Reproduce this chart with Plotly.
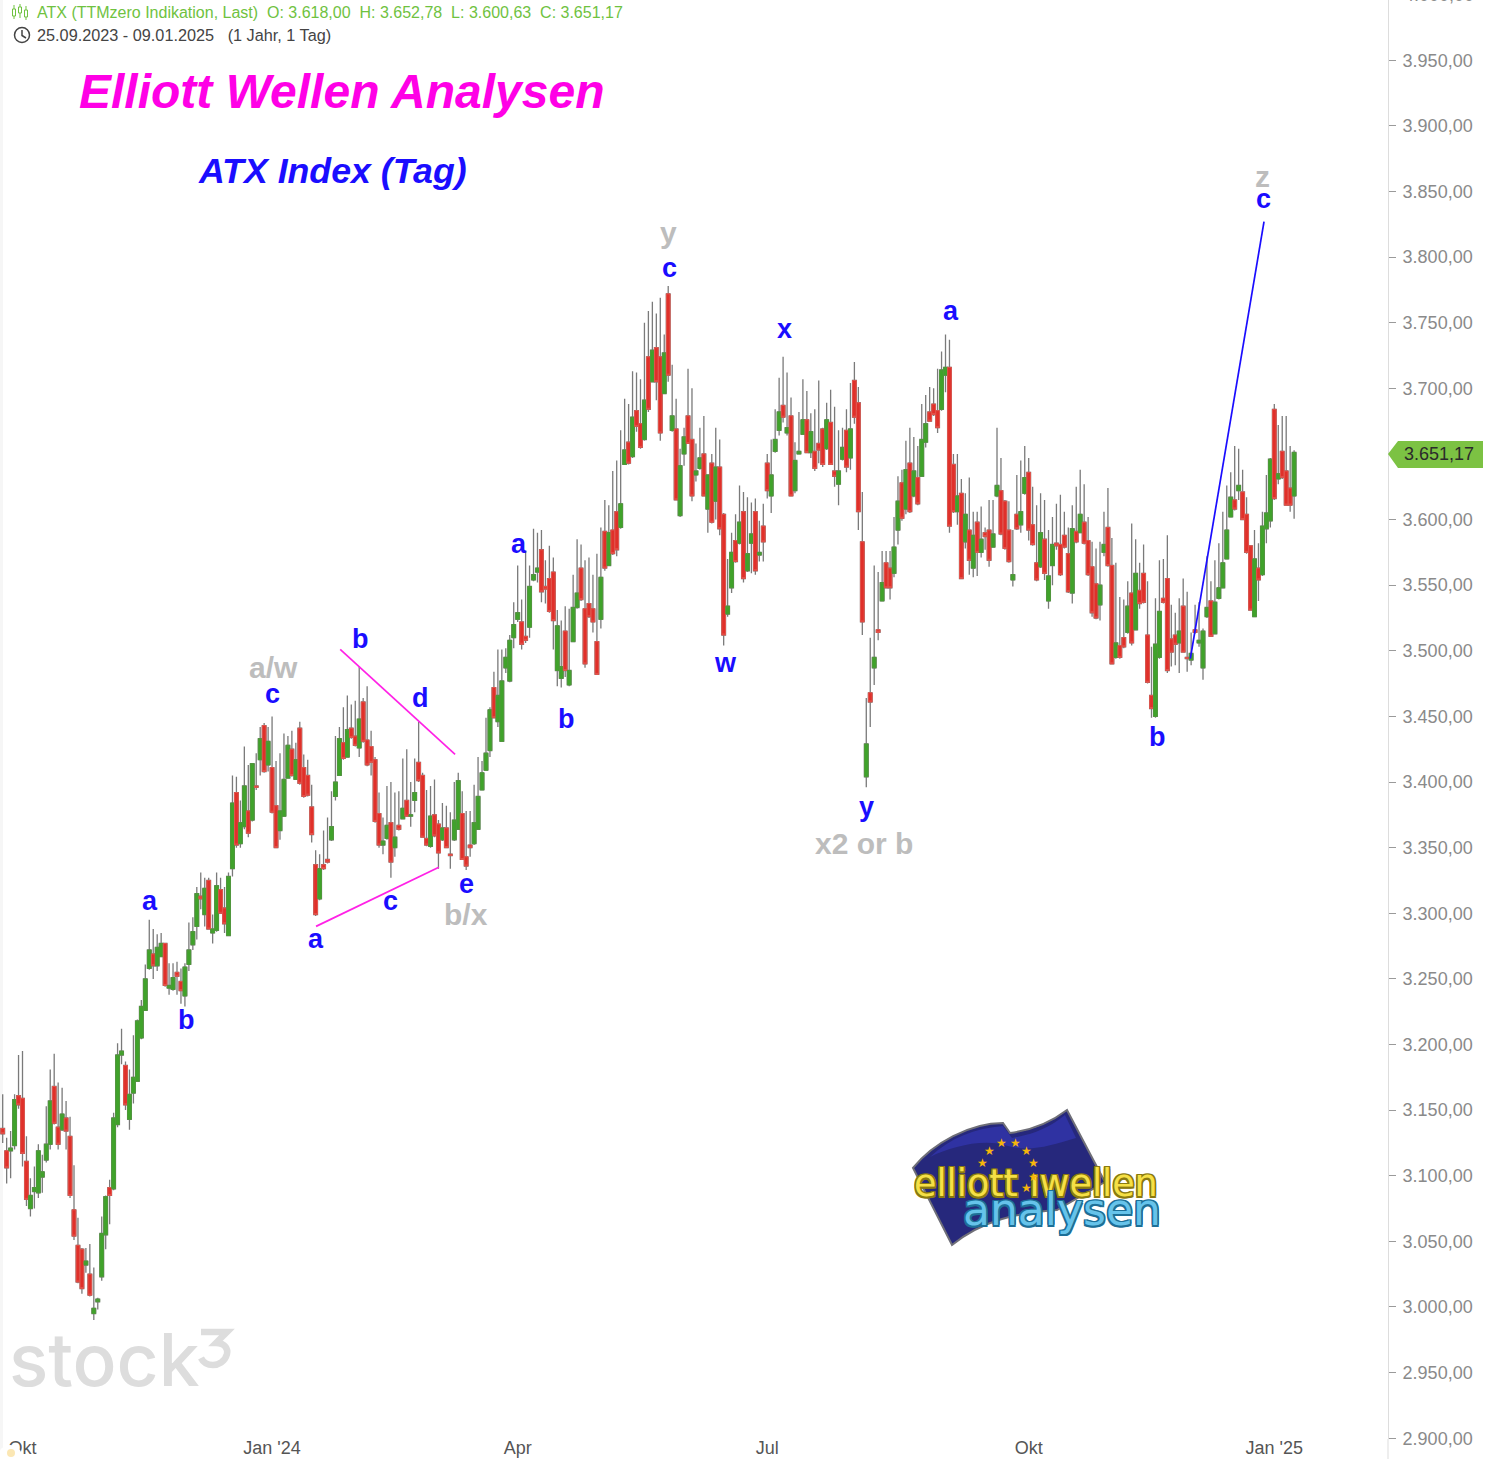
"""ATX Index daily candles with hand drawn Elliott wave count."""

import plotly.graph_objects as go

opens = [
    3136, 3119, 3119, 3123, 3161, 3159, 3111, 3075, 3088, 3087,
    3099, 3112, 3124, 3168, 3137, 3135, 3144, 3130, 3074, 3047,
    3044, 3032, 3025, 2995, 3004, 3023, 3055, 3091, 3090, 3139,
    3192, 3184, 3143, 3163, 3172, 3205, 3226, 3258, 3269, 3260,
    3267, 3277, 3243, 3242, 3255, 3248, 3237, 3261, 3276, 3290,
    3313, 3299, 3325, 3285, 3287, 3318, 3304, 3283, 3334, 3392,
    3353, 3366, 3378, 3371, 3397, 3417, 3443, 3413, 3411, 3382,
    3363, 3374, 3403, 3425, 3402, 3441, 3411, 3405, 3381, 3337,
    3311, 3337, 3341, 3356, 3389, 3405, 3430, 3419, 3441, 3435,
    3426, 3461, 3432, 3427, 3417, 3376, 3352, 3357, 3369, 3350,
    3367, 3372, 3386, 3374, 3386, 3415, 3405, 3357, 3351, 3375,
    3368, 3356, 3365, 3345, 3356, 3364, 3376, 3343, 3352, 3353,
    3364, 3394, 3409, 3424, 3472, 3446, 3431, 3487, 3477, 3510,
    3524, 3522, 3511, 3518, 3554, 3560, 3577, 3549, 3555, 3560,
    3485, 3479, 3515, 3474, 3507, 3533, 3563, 3532, 3536, 3532,
    3507, 3524, 3591, 3565, 3592, 3606, 3594, 3642, 3659, 3648,
    3683, 3673, 3661, 3724, 3705, 3731, 3724, 3696, 3772, 3668,
    3669, 3603, 3650, 3679, 3661, 3634, 3639, 3650, 3608, 3643,
    3614, 3640, 3604, 3528, 3548, 3584, 3582, 3606, 3561, 3582,
    3606, 3573, 3595, 3643, 3618, 3652, 3668, 3687, 3666, 3679,
    3622, 3650, 3665, 3676, 3651, 3652, 3658, 3669, 3654, 3674,
    3637, 3627, 3646, 3668, 3647, 3706, 3689, 3583, 3404, 3468,
    3487, 3516, 3538, 3567, 3563, 3559, 3592, 3628, 3608, 3643,
    3618, 3632, 3633, 3659, 3682, 3688, 3683, 3684, 3710, 3716,
    3642, 3606, 3620, 3583, 3592, 3563, 3598, 3575, 3590, 3592,
    3579, 3618, 3622, 3614, 3592, 3554, 3604, 3596, 3620, 3636,
    3596, 3567, 3564, 3585, 3538, 3565, 3582, 3581, 3588, 3574,
    3544, 3591, 3590, 3598, 3584, 3564, 3551, 3535, 3575, 3594,
    3565, 3495, 3504, 3510, 3514, 3544, 3516, 3546, 3559, 3512,
    3466, 3450, 3495, 3540, 3555, 3509, 3512, 3506, 3534, 3495,
    3493, 3516, 3506, 3487, 3526, 3538, 3513, 3540, 3548, 3570,
    3602, 3615, 3622, 3621, 3604, 3580, 3526, 3563, 3558, 3593,
    3599, 3684, 3631, 3652, 3637, 3624, 3618,
]
highs = [
    3162, 3129, 3134, 3162, 3192, 3195, 3130, 3098, 3107, 3124,
    3116, 3153, 3181, 3193, 3171, 3167, 3157, 3145, 3108, 3068,
    3045, 3045, 3048, 3030, 3007, 3069, 3085, 3097, 3148, 3201,
    3212, 3187, 3181, 3207, 3219, 3234, 3261, 3295, 3288, 3284,
    3285, 3277, 3262, 3262, 3263, 3258, 3262, 3293, 3297, 3320,
    3331, 3327, 3327, 3299, 3331, 3327, 3320, 3331, 3405, 3404,
    3386, 3427, 3413, 3414, 3422, 3442, 3445, 3442, 3450, 3416,
    3422, 3437, 3435, 3439, 3430, 3446, 3421, 3417, 3398, 3348,
    3345, 3363, 3373, 3393, 3435, 3442, 3457, 3466, 3459, 3462,
    3488, 3464, 3473, 3439, 3419, 3392, 3373, 3397, 3400, 3392,
    3393, 3418, 3425, 3400, 3418, 3446, 3407, 3394, 3397, 3402,
    3371, 3384, 3382, 3377, 3400, 3407, 3393, 3378, 3378, 3398,
    3419, 3416, 3449, 3457, 3484, 3501, 3501, 3502, 3512, 3537,
    3565, 3539, 3576, 3565, 3593, 3590, 3592, 3569, 3580, 3571,
    3531, 3523, 3534, 3532, 3558, 3585, 3581, 3569, 3571, 3558,
    3574, 3594, 3615, 3611, 3637, 3645, 3668, 3692, 3688, 3713,
    3712, 3707, 3750, 3759, 3766, 3757, 3769, 3741, 3778, 3718,
    3692, 3654, 3670, 3715, 3700, 3658, 3670, 3679, 3634, 3650,
    3670, 3661, 3605, 3570, 3590, 3604, 3626, 3621, 3617, 3613,
    3616, 3599, 3612, 3650, 3661, 3684, 3708, 3724, 3712, 3693,
    3659, 3682, 3707, 3698, 3681, 3684, 3706, 3670, 3689, 3699,
    3686, 3668, 3670, 3684, 3704, 3720, 3701, 3621, 3464, 3510,
    3565, 3560, 3576, 3576, 3576, 3602, 3633, 3638, 3660, 3670,
    3663, 3656, 3688, 3695, 3701, 3700, 3715, 3728, 3741, 3737,
    3650, 3650, 3631, 3620, 3632, 3606, 3606, 3610, 3594, 3615,
    3615, 3670, 3647, 3615, 3614, 3592, 3634, 3645, 3656, 3647,
    3625, 3611, 3620, 3615, 3592, 3602, 3612, 3619, 3606, 3594,
    3611, 3625, 3638, 3627, 3602, 3583, 3578, 3583, 3606, 3624,
    3586, 3567, 3541, 3539, 3553, 3597, 3585, 3567, 3581, 3553,
    3503, 3540, 3569, 3570, 3588, 3535, 3529, 3540, 3555, 3545,
    3514, 3535, 3537, 3517, 3572, 3553, 3569, 3582, 3606, 3626,
    3636, 3656, 3654, 3638, 3617, 3580, 3592, 3582, 3606, 3634,
    3647, 3688, 3672, 3679, 3679, 3656, 3652.78,
]
lows = [
    3125, 3094, 3098, 3120, 3151, 3107, 3077, 3069, 3075, 3083,
    3087, 3110, 3120, 3139, 3120, 3134, 3120, 3083, 3051, 3018,
    3010, 3026, 3008, 2990, 2998, 3020, 3044, 3063, 3089, 3137,
    3185, 3150, 3135, 3155, 3172, 3204, 3226, 3257, 3250, 3256,
    3267, 3244, 3238, 3241, 3238, 3231, 3229, 3256, 3272, 3280,
    3303, 3290, 3288, 3277, 3286, 3300, 3285, 3283, 3328, 3350,
    3350, 3364, 3358, 3370, 3394, 3405, 3407, 3408, 3376, 3350,
    3356, 3374, 3403, 3404, 3402, 3398, 3388, 3389, 3354, 3298,
    3310, 3333, 3338, 3355, 3386, 3405, 3417, 3419, 3433, 3427,
    3419, 3430, 3412, 3405, 3369, 3350, 3345, 3356, 3327, 3343,
    3363, 3372, 3374, 3366, 3377, 3400, 3358, 3351, 3350, 3358,
    3334, 3355, 3350, 3334, 3355, 3364, 3341, 3333, 3343, 3352,
    3364, 3394, 3409, 3419, 3449, 3442, 3431, 3483, 3476, 3502,
    3522, 3501, 3506, 3510, 3553, 3552, 3537, 3536, 3529, 3501,
    3473, 3472, 3480, 3473, 3507, 3532, 3538, 3487, 3525, 3514,
    3482, 3517, 3561, 3565, 3573, 3572, 3593, 3642, 3642, 3647,
    3667, 3654, 3660, 3682, 3705, 3691, 3660, 3696, 3705, 3667,
    3615, 3602, 3641, 3658, 3614, 3629, 3638, 3618, 3590, 3597,
    3600, 3588, 3504, 3526, 3544, 3567, 3581, 3552, 3560, 3559,
    3558, 3568, 3568, 3616, 3605, 3651, 3664, 3674, 3664, 3618,
    3620, 3650, 3665, 3651, 3647, 3637, 3643, 3640, 3653, 3642,
    3625, 3611, 3645, 3636, 3638, 3673, 3592, 3512, 3396, 3442,
    3474, 3508, 3538, 3548, 3539, 3556, 3581, 3599, 3604, 3605,
    3617, 3611, 3633, 3655, 3675, 3679, 3666, 3683, 3697, 3590,
    3605, 3596, 3555, 3578, 3558, 3556, 3557, 3571, 3577, 3564,
    3579, 3617, 3588, 3577, 3567, 3549, 3592, 3590, 3619, 3584,
    3580, 3553, 3563, 3554, 3532, 3550, 3577, 3557, 3578, 3544,
    3536, 3582, 3590, 3581, 3557, 3526, 3524, 3523, 3572, 3564,
    3490, 3494, 3494, 3502, 3513, 3504, 3516, 3532, 3536, 3475,
    3449, 3449, 3494, 3536, 3483, 3488, 3489, 3483, 3499, 3484,
    3489, 3513, 3503, 3478, 3525, 3511, 3513, 3539, 3548, 3570,
    3602, 3607, 3615, 3600, 3574, 3531, 3526, 3538, 3557, 3582,
    3594, 3615, 3627, 3631, 3611, 3606, 3600.63,
]
closes = [
    3132, 3106, 3121, 3158, 3154, 3117, 3082, 3085, 3091, 3119,
    3103, 3124, 3157, 3140, 3124, 3147, 3134, 3085, 3054, 3019,
    3014, 3035, 3009, 2999, 3006, 3056, 3084, 3085, 3144, 3192,
    3195, 3154, 3162, 3175, 3218, 3229, 3250, 3272, 3260, 3274,
    3277, 3245, 3245, 3251, 3252, 3241, 3259, 3272, 3286, 3315,
    3311, 3319, 3288, 3288, 3321, 3300, 3292, 3328, 3384, 3352,
    3369, 3397, 3361, 3414, 3396, 3433, 3408, 3431, 3377, 3350,
    3378, 3402, 3428, 3405, 3417, 3399, 3389, 3390, 3360, 3299,
    3334, 3334, 3339, 3366, 3400, 3433, 3418, 3440, 3434, 3428,
    3448, 3431, 3413, 3415, 3370, 3352, 3355, 3367, 3339, 3358,
    3364, 3380, 3374, 3375, 3392, 3401, 3358, 3352, 3374, 3359,
    3346, 3365, 3350, 3344, 3371, 3401, 3341, 3336, 3350, 3369,
    3389, 3407, 3422, 3455, 3449, 3466, 3477, 3495, 3508, 3520,
    3529, 3505, 3508, 3549, 3558, 3563, 3545, 3547, 3530, 3523,
    3519, 3488, 3485, 3485, 3533, 3544, 3539, 3490, 3526, 3522,
    3482, 3556, 3563, 3590, 3574, 3577, 3612, 3653, 3643, 3678,
    3671, 3655, 3691, 3684, 3729, 3705, 3666, 3727, 3710, 3679,
    3615, 3641, 3663, 3658, 3618, 3637, 3647, 3618, 3634, 3598,
    3640, 3593, 3512, 3534, 3575, 3568, 3598, 3555, 3574, 3589,
    3561, 3575, 3583, 3622, 3634, 3661, 3682, 3678, 3670, 3618,
    3645, 3652, 3676, 3651, 3667, 3639, 3653, 3642, 3676, 3642,
    3633, 3637, 3655, 3640, 3669, 3678, 3606, 3522, 3429, 3461,
    3495, 3514, 3552, 3548, 3548, 3579, 3614, 3601, 3638, 3606,
    3637, 3612, 3661, 3673, 3675, 3680, 3670, 3714, 3716, 3595,
    3606, 3618, 3555, 3604, 3569, 3588, 3575, 3585, 3587, 3569,
    3589, 3626, 3589, 3578, 3568, 3558, 3593, 3606, 3632, 3592,
    3581, 3554, 3590, 3559, 3557, 3581, 3580, 3558, 3579, 3545,
    3593, 3583, 3604, 3582, 3558, 3529, 3525, 3550, 3581, 3565,
    3490, 3506, 3495, 3503, 3534, 3506, 3559, 3536, 3537, 3476,
    3456, 3505, 3530, 3537, 3485, 3499, 3505, 3515, 3499, 3494,
    3498, 3514, 3508, 3515, 3533, 3511, 3537, 3548, 3567, 3592,
    3617, 3608, 3626, 3600, 3575, 3531, 3570, 3554, 3595, 3605,
    3646, 3616, 3635, 3632, 3611, 3611, 3651.17,
]
bars = list(range(len(closes)))

month_bars = [5, 68, 130, 193, 259, 321]
month_labels = ["Okt", "Jan '24", "Apr", "Jul", "Okt", "Jan '25"]

blue_labels = ["a", "b", "c", "a", "b", "c", "d", "e", "a", "b", "c", "w", "x", "y", "a", "b", "c"]
blue_bars = [37.2, 46.3, 68.2, 79.1, 90.2, 98.0, 105.4, 117.0, 130.4, 142.2, 168.2, 182.4, 197.4, 218.1, 239.4, 291.4, 318.2]
blue_prices = [3309, 3219, 3467, 3280.5, 3509, 3309, 3464, 3322, 3581.5, 3448, 3791.5, 3490.5, 3745.5, 3381, 3759, 3434, 3844]

grey_labels = ["a/w", "b/x", "y", "x2 or b", "z"]
grey_bars = [68.4, 117.0, 168.0, 217.4, 318.0]
grey_prices = [3487, 3299, 3819, 3353, 3861.5]

lower_line_bars = [79.1, 110.1]
lower_line_prices = [3290, 3335]
upper_line_bars = [85.2, 114.2]
upper_line_prices = [3501, 3421]
target_line_bars = [299.8, 318.4]
target_line_prices = [3494, 3827]

WIDTH, HEIGHT = 1488, 1459
PLOT_W, PLOT_H = 1388, 1439
FONT = "Liberation Sans"
BLUE = "#1a0dff"
GREY = "#bdbdbd"
MAGENTA = "#ff00e6"
LINE_MAGENTA = "#ff22e6"
TICK_GREEN = "#6fc23f"
AXIS_GREY = "#8a8a8a"


def pxx(x):
    return x / PLOT_W


def pxy(y):
    return 1 - y / PLOT_H


def page_path(text):
    # SVG path written in page pixels, moved over to paper coordinates
    out = []
    is_x = True
    for tok in text.split():
        if tok.isalpha():
            out.append(tok)
        else:
            val = float(tok)
            out.append(f"{pxx(val) if is_x else pxy(val):.5f}")
            is_x = not is_x
    return " ".join(out)


def path_shape(text, fill=None, color=None, width=0, layer="above"):
    return dict(
        type="path", xref="paper", yref="paper", path=page_path(text), layer=layer,
        fillcolor=fill or "rgba(0,0,0,0)", line=dict(color=color or "rgba(0,0,0,0)", width=width),
    )


def page_text(x, y, text, size, color, anchor="left", **font_kw):
    return dict(
        xref="paper", yref="paper", x=pxx(x), y=pxy(y), text=text, showarrow=False,
        xanchor=anchor, yanchor="middle", align=anchor,
        font=dict(family=font_kw.pop("family", FONT), size=size, color=color, **font_kw),
    )


def outline(color, r=1.5):
    # text-shadow ring, annotations have no stroke setting
    offsets = [(r, 0), (-r, 0), (0, r), (0, -r), (r, r), (-r, -r), (r, -r), (-r, r)]
    return ", ".join(f"{a}px {b}px 0 {color}" for a, b in offsets)


fig = go.Figure()

# grey wicks first, then bodies on top because candlestick shares one line colour
fig.add_trace(go.Candlestick(
    x=bars, open=opens, high=highs, low=lows, close=closes, whiskerwidth=0,
    increasing=dict(line=dict(color="#7a7a7a", width=1.3), fillcolor="#7a7a7a"),
    decreasing=dict(line=dict(color="#7a7a7a", width=1.3), fillcolor="#7a7a7a"),
    hoverinfo="skip",
))
fig.add_trace(go.Candlestick(
    x=bars, open=opens, close=closes,
    high=[max(o, c) for o, c in zip(opens, closes)],
    low=[min(o, c) for o, c in zip(opens, closes)],
    whiskerwidth=0,
    increasing=dict(line=dict(color="#4d9a38", width=1), fillcolor="#3fa32a"),
    decreasing=dict(line=dict(color="#e2544c", width=1), fillcolor="#e0302a"),
    hoverinfo="skip",
))

for line_x, line_y, color in [
    (lower_line_bars, lower_line_prices, LINE_MAGENTA),
    (upper_line_bars, upper_line_prices, LINE_MAGENTA),
    (target_line_bars, target_line_prices, BLUE),
]:
    fig.add_trace(go.Scatter(x=line_x, y=line_y, mode="lines", line=dict(color=color, width=1.7), hoverinfo="skip"))

annotations = []
for text, x, y in zip(blue_labels, blue_bars, blue_prices):
    annotations.append(dict(x=x, y=y, text=text, showarrow=False, font=dict(family=FONT, size=27, color=BLUE, weight="bold")))
for text, x, y in zip(grey_labels, grey_bars, grey_prices):
    annotations.append(dict(x=x, y=y, text=text, showarrow=False, font=dict(family=FONT, size=30, color=GREY, weight="bold")))

nbsp = "\u00a0"
annotations += [
    page_text(77, 92, "Elliott Wellen Analysen", 48, MAGENTA, weight="bold", style="italic"),
    page_text(196, 171, "ATX Index (Tag)", 35.7, BLUE, weight="bold", style="italic"),
    page_text(35, 12, f"ATX (TTMzero Indikation, Last){nbsp*2}O: 3.618,00{nbsp*2}H: 3.652,78{nbsp*2}L: 3.600,63{nbsp*2}C: 3.651,17", 16, TICK_GREEN),
    page_text(35, 35, f"25.09.2023 - 09.01.2025{nbsp*2} (1 Jahr, 1 Tag)", 16.25, "#444444"),
    page_text(1439, 454, "3.651,17", 18, "#2b2b2b", anchor="center"),
    page_text(1402, -5, "4.000,00", 18, AXIS_GREY),
    page_text(7, 1359, "stock", 73, "#dddddd", family="Inter", weight=500),
    page_text(912, 1183, "elliott ıwellen", 36.5, "#f6e046", family="DejaVu Sans", shadow=outline("#8a7a10")),
    page_text(961, 1209, "analysen", 44, "#66c3ea", family="DejaVu Sans", shadow=outline("#1d6f97")),
]
for x, y in [(333, 160), (375, 160), (297, 183), (410, 183), (430, 218), (277, 218), (430, 260), (410, 295)]:
    annotations.append(page_text(890 + x / 3, 1090 + y / 3, "★", 12, "#f6b60c", anchor="center", family="DejaVu Sans"))

shapes = [
    # left page edge
    dict(type="rect", xref="paper", yref="paper", x0=0, x1=pxx(3), y0=pxy(HEIGHT), y1=1, fillcolor="#f6f6f6", line_width=0, layer="below"),
    # axis line runs on past the plot area to the page bottom
    path_shape(f"M {PLOT_W} {PLOT_H} L {PLOT_W} {HEIGHT}", color="#dddddd", width=1),
    # price tag
    path_shape("M 1388 454 L 1398 441 L 1483 441 L 1483 468 L 1398 468 Z", fill="#7cc243"),
    # header icons
    dict(type="circle", xref="paper", yref="paper", x0=pxx(14.5), x1=pxx(29.5), y0=pxy(42.5), y1=pxy(27.5), line=dict(color="#444444", width=1.5)),
    path_shape("M 22 30 L 22 35.5 L 26 38", color="#444444", width=1.5),
    path_shape("M 14 5 L 14 19", color=TICK_GREEN, width=1),
    path_shape("M 20 4 L 20 18", color=TICK_GREEN, width=1),
    path_shape("M 26 6 L 26 20", color=TICK_GREEN, width=1),
    path_shape("M 12.5 9 L 15.5 9 L 15.5 16 L 12.5 16 Z", fill="#ffffff", color=TICK_GREEN, width=1),
    path_shape("M 18.5 7 L 21.5 7 L 21.5 13 L 18.5 13 Z", fill="#ffffff", color=TICK_GREEN, width=1),
    path_shape("M 24.5 10 L 27.5 10 L 27.5 17 L 24.5 17 Z", fill="#ffffff", color=TICK_GREEN, width=1),
    # stock3 superscript
    path_shape("M 201 1332 L 227 1332 L 216 1343 C 226 1343 228 1350 227 1354 C 225 1362 218 1365 213 1365 C 207 1365 203 1362 201 1358",
               color="#dddddd", width=6.5),
    # logo flag
    path_shape("M 913 1168 C 933 1143 970 1123 1003 1123 L 1010 1133 C 1033 1130 1050 1123 1067 1110 L 1097 1167 L 1105 1182 "
               "L 1057 1210 C 1017 1213 983 1220 952 1245 Z", fill="#26287c", color="#6f6f78", width=2),
    path_shape("M 930 1157 C 950 1138 975 1128 1003 1126 L 1012 1138 C 1035 1134 1050 1127 1065 1115 L 1076 1138 "
               "C 1050 1146 1030 1152 1008 1146 C 985 1138 952 1146 930 1157 Z", fill="#2f32a2"),
    # cookie badge over the first tick label
    dict(type="circle", xref="paper", yref="paper", x0=pxx(-2), x1=pxx(22), y0=pxy(1469), y1=pxy(1445), fillcolor="#ffffff", line_width=0),
    dict(type="circle", xref="paper", yref="paper", x0=pxx(7), x1=pxx(15), y0=pxy(1457), y1=pxy(1449), fillcolor="#fbe7b4", line_width=0),
]

fig.update_layout(
    width=WIDTH, height=HEIGHT,
    margin=dict(l=0, r=WIDTH - PLOT_W, t=0, b=HEIGHT - PLOT_H, autoexpand=False),
    paper_bgcolor="#ffffff", plot_bgcolor="#ffffff",
    showlegend=False, hovermode=False,
    separators=",.",
    boxgap=0.03, boxgroupgap=0.03,
    font=dict(family=FONT),
    annotations=annotations, shapes=shapes,
    xaxis=dict(
        range=[-0.68, 349.7], rangeslider=dict(visible=False), showgrid=False, zeroline=False,
        automargin=False, tickmode="array", tickvals=month_bars, ticktext=month_labels,
        ticks="", showline=False, ticklabelstandoff=-4,
        tickfont=dict(family=FONT, size=18, color="#555555"),
    ),
    yaxis=dict(
        range=[2899.4, 3995.9], side="right", showgrid=False, zeroline=False, automargin=False,
        tickmode="linear", tick0=2900, dtick=50, tickformat=",.2f",
        ticks="outside", ticklen=7, tickcolor="#9a9a9a", showline=True, linecolor="#dddddd", linewidth=1,
        ticklabelstandoff=3,
        tickfont=dict(family=FONT, size=18, color=AXIS_GREY),
    ),
)

fig.write_html("out.html", config=dict(displayModeBar=False), post_script="document.body.style.margin='0';document.body.style.overflow='hidden';")
